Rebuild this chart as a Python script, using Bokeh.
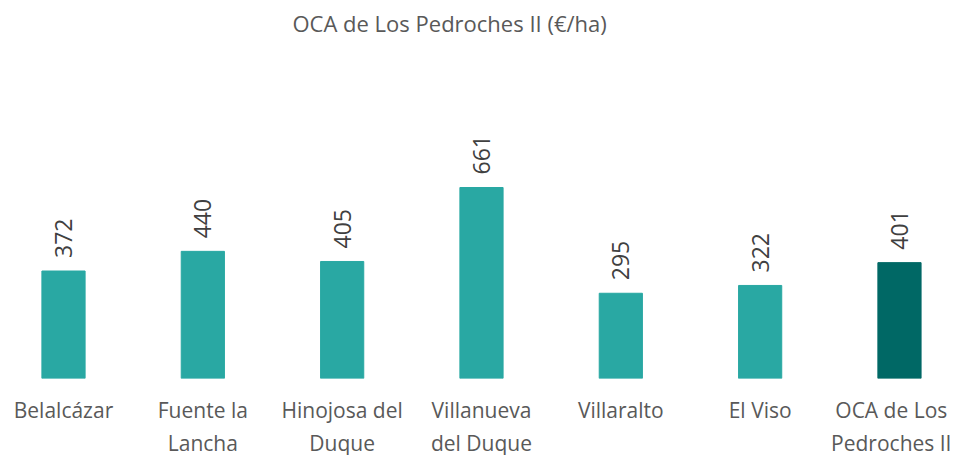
import math
from bokeh.plotting import figure
from bokeh.models import FixedTicker, ColumnDataSource, Title
from bokeh.core.properties import value
from bokeh.embed import file_html
from bokeh.resources import INLINE

categories = ["Belalcázar", "Fuente la\nLancha", "Hinojosa del\nDuque", "Villanueva\ndel Duque",
              "Villaralto", "El Viso", "OCA de Los\nPedroches II"]
values = [372, 440, 405, 661, 295, 322, 401]
colors = ["#29A8A3"] * 6 + ["#006865"]
labels = [str(v) for v in values]

FONT = "Open Sans"
PX_PER_UNIT = 191 / 661
FRAME_H = 336
STEP = 139.33
FIRST = 63

xs = list(range(len(values)))
src = ColumnDataSource(dict(x=xs, top=values, color=colors, label=labels))

p = figure(frame_width=951, frame_height=FRAME_H, output_backend="svg", toolbar_location=None,
           x_range=(-FIRST / STEP, (951 - FIRST) / STEP), y_range=(0, FRAME_H / PX_PER_UNIT),
           min_border=0, outline_line_color=None)

p.title = Title(text="OCA de Los Pedroches II (€/ha)", align="left", offset=292,
                text_font=FONT, text_font_size="22px", text_font_style="normal",
                text_color="#595959")

p.vbar(x="x", top="top", width=0.31, color="color", source=src)
p.text(x="x", y="top", text="label", angle=math.pi / 2, y_offset=-13,
       text_align="left", text_baseline="middle", text_font=value(FONT),
       text_font_size="23px", text_color="#404040", source=src)

p.yaxis.visible = False
p.xgrid.visible = False
p.ygrid.visible = False
p.xaxis.ticker = FixedTicker(ticks=xs)
p.xaxis.major_label_overrides = {i: c for i, c in enumerate(categories)}
p.xaxis.major_label_text_font = FONT
p.xaxis.major_label_text_font_size = "21px"
p.xaxis.major_label_text_color = "#595959"
p.xaxis.major_label_standoff = 11
p.xaxis.major_tick_line_color = None
p.xaxis.minor_tick_line_color = None
p.xaxis.axis_line_color = None

open("out.html", "w").write(file_html(p, INLINE))
